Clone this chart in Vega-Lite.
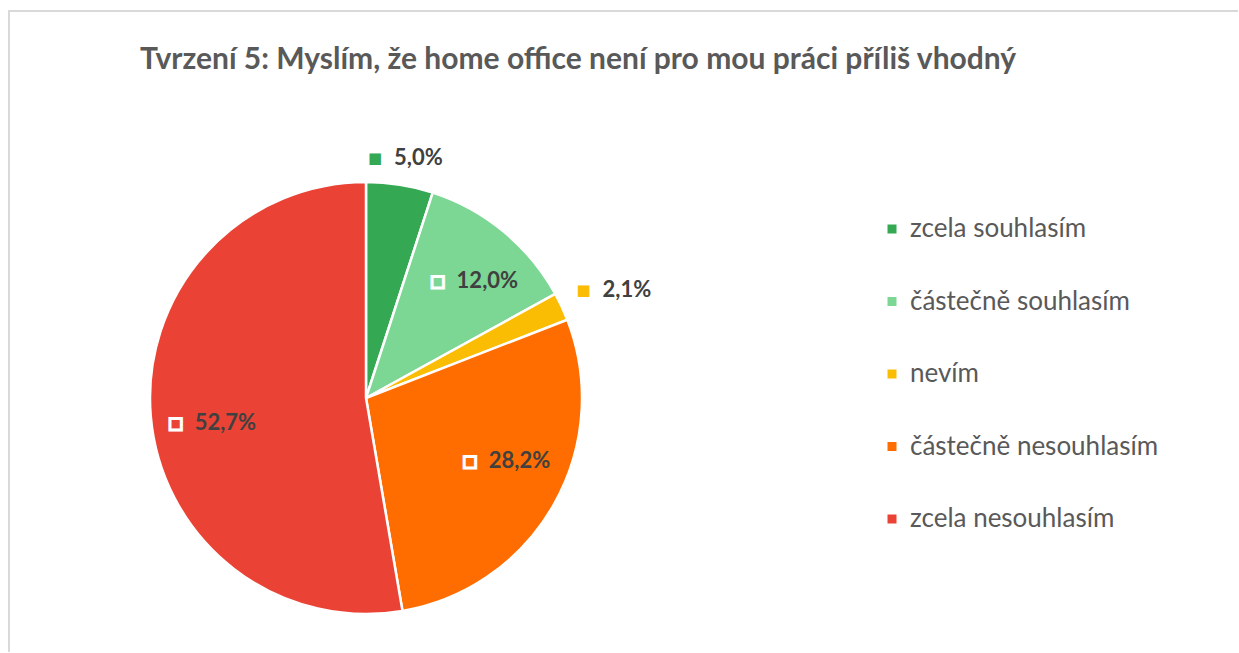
{
  "$schema": "https://vega.github.io/schema/vega-lite/v6.json",
  "autosize": "none",
  "padding": {"left": 9, "top": 11, "right": 0, "bottom": 0},
  "width": 1229,
  "height": 641,
  "background": "white",
  "view": {"stroke": "#d9d9d9", "strokeWidth": 2, "strokeDash": [1229, 1870, 641]},
  "config": {
    "locale": {"number": {"decimal": ",", "thousands": " ", "grouping": [3], "currency": ["", " Kč"]}}
  },
  "title": {
    "text": "Tvrzení 5: Myslím, že home office není pro mou práci příliš vhodný",
    "anchor": "start", "frame": "group", "orient": "top",
    "offset": -88, "baseline": "alphabetic", "dx": 131,
    "font": "Lato", "fontSize": 30, "fontWeight": "bold", "color": "#595959"
  },
  "data": {"values": [
    {"kategorie": "zcela souhlasím", "podil": 0.050, "poradi": 1},
    {"kategorie": "částečně souhlasím", "podil": 0.120, "poradi": 2},
    {"kategorie": "nevím", "podil": 0.021, "poradi": 3},
    {"kategorie": "částečně nesouhlasím", "podil": 0.282, "poradi": 4},
    {"kategorie": "zcela nesouhlasím", "podil": 0.527, "poradi": 5}
  ]},
  "encoding": {
    "theta": {"field": "podil", "type": "quantitative", "stack": true},
    "order": {"field": "poradi", "type": "quantitative"}
  },
  "layer": [
    {
      "mark": {"type": "arc", "outerRadius": 216, "x": 357, "y": 387, "stroke": "white", "strokeWidth": 2.5},
      "encoding": {
        "color": {
          "field": "kategorie", "type": "nominal",
          "scale": {
            "domain": ["zcela souhlasím", "částečně souhlasím", "nevím", "částečně nesouhlasím", "zcela nesouhlasím"],
            "range": ["#34a853", "#7cd694", "#fbbc04", "#ff6d01", "#ea4335"]
          },
          "legend": {
            "title": null, "orient": "none", "legendX": 870, "legendY": 205,
            "symbolType": "square", "symbolSize": 81, "symbolStrokeWidth": 0,
            "labelFont": "Lato", "labelFontSize": 26, "labelColor": "#595959",
            "rowPadding": 46.5, "labelOffset": 5, "padding": 0, "labelLimit": 400
          }
        }
      }
    },
    {
      "mark": {"type": "text", "radius": 243, "x": 357, "y": 387, "dx": -29, "dy": 0, "align": "center", "baseline": "middle", "font": "DejaVu Sans", "fontSize": 15},
      "encoding": {
        "text": {"condition": {"test": "datum.kategorie === 'zcela souhlasím'", "value": "■"}, "value": ""},
        "color": {"field": "kategorie", "type": "nominal", "legend": null}
      }
    },
    {
      "mark": {"type": "text", "radius": 243, "x": 357, "y": 387, "dx": -10, "dy": 0, "align": "left", "baseline": "middle", "font": "Lato", "fontSize": 22, "fontWeight": "bold", "color": "#404040"},
      "encoding": {
        "text": {"condition": {"test": "datum.kategorie === 'zcela souhlasím'", "field": "podil", "type": "quantitative", "format": ".1%"}, "value": ""}
      }
    },
    {
      "mark": {"type": "text", "radius": 150, "x": 357, "y": 387, "dx": -24, "dy": -1, "align": "center", "baseline": "middle", "font": "DejaVu Sans", "fontSize": 15, "stroke": "white", "strokeWidth": 3},
      "encoding": {
        "text": {"condition": {"test": "datum.kategorie === 'částečně souhlasím'", "value": "■"}, "value": ""},
        "color": {"field": "kategorie", "type": "nominal", "legend": null}
      }
    },
    {
      "mark": {"type": "text", "radius": 150, "x": 357, "y": 387, "dx": -5, "dy": -1, "align": "left", "baseline": "middle", "font": "Lato", "fontSize": 22, "fontWeight": "bold", "color": "#404040"},
      "encoding": {
        "text": {"condition": {"test": "datum.kategorie === 'částečně souhlasím'", "field": "podil", "type": "quantitative", "format": ".1%"}, "value": ""}
      }
    },
    {
      "mark": {"type": "text", "radius": 240, "x": 357, "y": 387, "dx": 0, "dy": -6, "align": "center", "baseline": "middle", "font": "DejaVu Sans", "fontSize": 15},
      "encoding": {
        "text": {"condition": {"test": "datum.kategorie === 'nevím'", "value": "■"}, "value": ""},
        "color": {"field": "kategorie", "type": "nominal", "legend": null}
      }
    },
    {
      "mark": {"type": "text", "radius": 240, "x": 357, "y": 387, "dx": 19, "dy": -6, "align": "left", "baseline": "middle", "font": "Lato", "fontSize": 22, "fontWeight": "bold", "color": "#404040"},
      "encoding": {
        "text": {"condition": {"test": "datum.kategorie === 'nevím'", "field": "podil", "type": "quantitative", "format": ".1%"}, "value": ""}
      }
    },
    {
      "mark": {"type": "text", "radius": 125, "x": 357, "y": 387, "dx": -5, "dy": 1, "align": "center", "baseline": "middle", "font": "DejaVu Sans", "fontSize": 15, "stroke": "white", "strokeWidth": 3},
      "encoding": {
        "text": {"condition": {"test": "datum.kategorie === 'částečně nesouhlasím'", "value": "■"}, "value": ""},
        "color": {"field": "kategorie", "type": "nominal", "legend": null}
      }
    },
    {
      "mark": {"type": "text", "radius": 125, "x": 357, "y": 387, "dx": 14, "dy": 1, "align": "left", "baseline": "middle", "font": "Lato", "fontSize": 22, "fontWeight": "bold", "color": "#404040"},
      "encoding": {
        "text": {"condition": {"test": "datum.kategorie === 'částečně nesouhlasím'", "field": "podil", "type": "quantitative", "format": ".1%"}, "value": ""}
      }
    },
    {
      "mark": {"type": "text", "radius": 190, "x": 357, "y": 387, "dx": -1, "dy": 9, "align": "center", "baseline": "middle", "font": "DejaVu Sans", "fontSize": 15, "stroke": "white", "strokeWidth": 3},
      "encoding": {
        "text": {"condition": {"test": "datum.kategorie === 'zcela nesouhlasím'", "value": "■"}, "value": ""},
        "color": {"field": "kategorie", "type": "nominal", "legend": null}
      }
    },
    {
      "mark": {"type": "text", "radius": 190, "x": 357, "y": 387, "dx": 18, "dy": 9, "align": "left", "baseline": "middle", "font": "Lato", "fontSize": 22, "fontWeight": "bold", "color": "#404040"},
      "encoding": {
        "text": {"condition": {"test": "datum.kategorie === 'zcela nesouhlasím'", "field": "podil", "type": "quantitative", "format": ".1%"}, "value": ""}
      }
    }
  ]
}
